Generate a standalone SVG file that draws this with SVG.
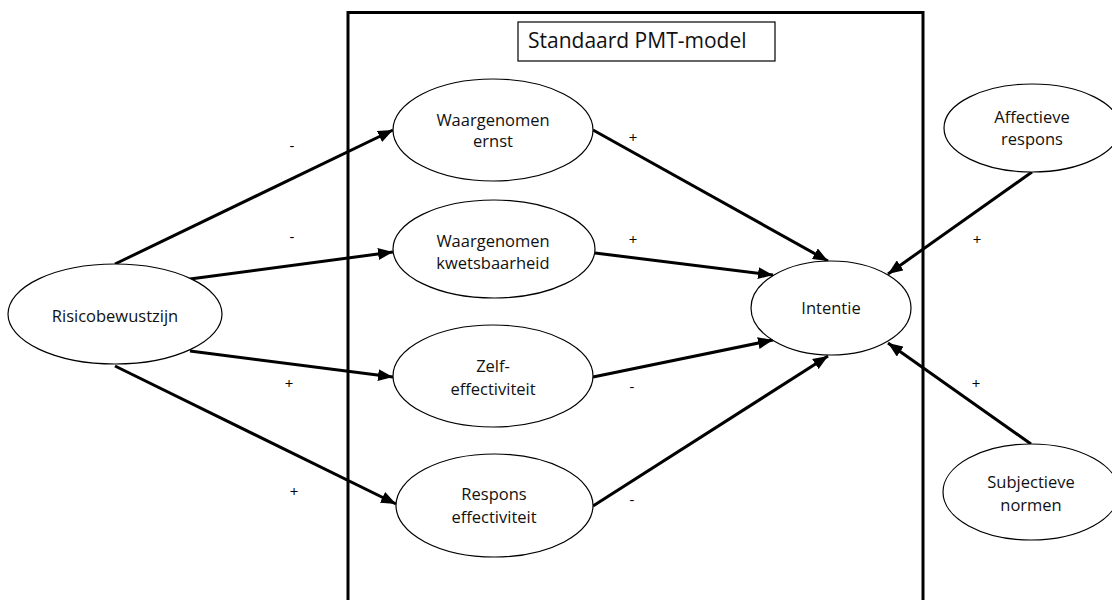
<svg xmlns="http://www.w3.org/2000/svg" width="1112" height="600" viewBox="0 0 1112 600">
<defs>
<marker id="ah" markerUnits="userSpaceOnUse" markerWidth="16" markerHeight="12" refX="15" refY="6" orient="auto">
<path d="M0,0 L15,6 L0,12 z" fill="#000"/>
</marker>
<style>
.n{fill:#fff;stroke:#000;stroke-width:1.2}
.t{font-family:"Open Sans","Liberation Sans",sans-serif;font-size:16.5px;fill:#111;text-anchor:middle}
.s{font-family:"Open Sans","Liberation Sans",sans-serif;font-size:15px;fill:#000;text-anchor:middle}
.c{stroke:#000;stroke-width:3;fill:none;marker-end:url(#ah)}
</style>
</defs>
<rect width="1112" height="600" fill="#fff"/>
<g id="frame">
<rect x="348" y="12.5" width="575" height="600" fill="none" stroke="#000" stroke-width="3"/>
<rect x="518" y="22" width="257" height="39" fill="#fff" stroke="#000" stroke-width="1.2"/>
<text x="528" y="48" style="font-family:'Open Sans','Liberation Sans',sans-serif;font-size:21px;fill:#111">Standaard PMT-model</text>
</g>
<g id="connectors">
<line class="c" x1="115" y1="264" x2="393" y2="130"/>
<line class="c" x1="190" y1="279" x2="393" y2="252"/>
<line class="c" x1="190" y1="351" x2="393" y2="377"/>
<line class="c" x1="115" y1="366" x2="396" y2="504"/>
<line class="c" x1="593" y1="130" x2="828" y2="261"/>
<line class="c" x1="595" y1="253" x2="773" y2="275"/>
<line class="c" x1="593" y1="377" x2="773" y2="340"/>
<line class="c" x1="593" y1="506" x2="828" y2="356"/>
<line class="c" x1="1032" y1="172" x2="888" y2="274"/>
<line class="c" x1="1031" y1="444" x2="888" y2="343"/>
<text class="s" x="292" y="151">-</text>
<text class="s" x="292" y="242">-</text>
<text class="s" x="289" y="389">+</text>
<text class="s" x="294" y="497">+</text>
<text class="s" x="633" y="143">+</text>
<text class="s" x="633" y="245">+</text>
<text class="s" x="632" y="392">-</text>
<text class="s" x="632" y="505">-</text>
<text class="s" x="977" y="245">+</text>
<text class="s" x="976" y="389">+</text>
</g>
<g id="risicobewustzijn">
<ellipse class="n" cx="115" cy="314" rx="107" ry="50"/>
<text class="t" x="115" y="322">Risicobewustzijn</text>
</g>
<g id="waargenomen-ernst">
<ellipse class="n" cx="493" cy="130" rx="100" ry="51"/>
<text class="t" x="493" y="126">Waargenomen</text>
<text class="t" x="493" y="147">ernst</text>
</g>
<g id="waargenomen-kwetsbaarheid">
<ellipse class="n" cx="494" cy="249" rx="101" ry="49"/>
<text class="t" x="493" y="247">Waargenomen</text>
<text class="t" x="493" y="269">kwetsbaarheid</text>
</g>
<g id="zelf-effectiviteit">
<ellipse class="n" cx="493" cy="376" rx="100" ry="51"/>
<text class="t" x="493" y="372">Zelf-</text>
<text class="t" x="493" y="395">effectiviteit</text>
</g>
<g id="respons-effectiviteit">
<ellipse class="n" cx="494.5" cy="505.5" rx="98.5" ry="51.5"/>
<text class="t" x="494" y="500">Respons</text>
<text class="t" x="494" y="523">effectiviteit</text>
</g>
<g id="intentie">
<ellipse class="n" cx="831" cy="308" rx="80" ry="47"/>
<text class="t" x="831" y="314">Intentie</text>
</g>
<g id="affectieve-respons">
<ellipse class="n" cx="1032" cy="128" rx="88" ry="44"/>
<text class="t" x="1032" y="123">Affectieve</text>
<text class="t" x="1032" y="145">respons</text>
</g>
<g id="subjectieve-normen">
<ellipse class="n" cx="1031" cy="492" rx="88" ry="48"/>
<text class="t" x="1031" y="488">Subjectieve</text>
<text class="t" x="1031" y="511">normen</text>
</g>
</svg>
